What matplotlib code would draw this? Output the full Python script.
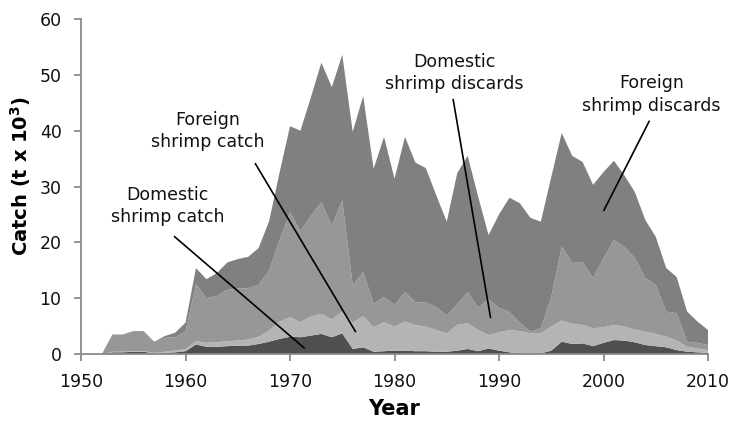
import matplotlib
matplotlib.use("Agg")
import matplotlib.pyplot as plt
import numpy as np

plt.rcParams['font.family'] = ['DejaVu Sans']

years = list(range(1950, 2011))

# Catch components (thousand tonnes), stacked bottom to top
domestic_catch = [
    0, 0, 0, 0.3, 0.3, 0.4, 0.4, 0.1, 0.2, 0.3,
    0.5, 1.7, 1.3, 1.3, 1.4, 1.5, 1.5, 1.8, 2.2, 2.7,
    3.1, 3.0, 3.3, 3.6, 3.0, 3.7, 0.9, 1.2, 0.4, 0.5,
    0.6, 0.6, 0.5, 0.5, 0.4, 0.4, 0.6, 0.9, 0.5, 1.0,
    0.6, 0.3, 0.1, 0.1, 0.1, 0.6, 2.2, 1.8, 1.9, 1.4,
    2.0, 2.5, 2.4, 2.1, 1.6, 1.4, 1.2, 0.7, 0.4, 0.3,
    0.2,
]
foreign_catch = [
    0, 0, 0, 0.1, 0.1, 0.1, 0.1, 0.1, 0.2, 0.3,
    0.4, 0.6, 0.7, 0.8, 0.9, 0.9, 1.1, 1.3, 2.0, 3.1,
    3.5, 2.7, 3.4, 3.6, 3.2, 3.9, 4.7, 5.6, 4.4, 5.2,
    4.3, 5.2, 4.7, 4.4, 3.9, 3.3, 4.6, 4.6, 3.8, 2.4,
    3.3, 4.0, 4.0, 3.6, 3.6, 4.3, 3.8, 3.6, 3.3, 3.2,
    2.8, 2.7, 2.5, 2.3, 2.4, 2.2, 1.9, 1.7, 0.9, 0.7,
    0.5,
]
domestic_discards = [
    0, 0, 0, 3.1, 3.1, 3.6, 3.6, 2.0, 2.5, 2.4,
    3.1, 10.2, 8.0, 8.3, 9.2, 9.3, 9.2, 9.3, 10.8, 14.6,
    18.8, 16.3, 18.1, 20.0, 16.8, 19.9, 6.7, 7.9, 4.2, 4.5,
    3.9, 5.3, 4.1, 4.3, 4.1, 3.2, 3.7, 5.6, 4.0, 6.4,
    4.4, 3.2, 1.5, 0.3, 0.9, 5.3, 13.2, 10.9, 11.3, 9.0,
    12.4, 15.2, 14.3, 12.8, 9.6, 8.8, 4.5, 4.9, 0.9, 1.0,
    0.9,
]
foreign_discards = [
    0, 0, 0, 0, 0, 0, 0, 0, 0.3, 0.8,
    1.6, 2.9, 3.4, 4.1, 4.9, 5.3, 5.6, 6.6, 8.8, 12.1,
    15.4, 18.0, 21.2, 25.0, 24.8, 26.1, 27.5, 31.5, 24.2, 28.7,
    22.6, 27.8, 25.0, 24.1, 20.0, 16.8, 23.5, 24.4, 19.9, 11.5,
    16.7, 20.5, 21.4, 20.4, 19.1, 21.5, 20.4, 19.2, 17.9, 16.7,
    15.4, 14.2, 12.8, 11.8, 10.4, 8.6, 7.8, 6.5, 5.4, 3.8,
    2.7,
]

layer_colors = ['#4f4f4f', '#b4b4b4', '#979797', '#808080']

x_ticks = [1950, 1960, 1970, 1980, 1990, 2000, 2010]
y_ticks = [0, 10, 20, 30, 40, 50, 60]

fig = plt.figure(figsize=(7.42, 4.24), dpi=100)
ax = fig.add_axes([0.1092, 0.1651, 0.845, 0.790])

ax.stackplot(years, domestic_catch, foreign_catch, domestic_discards,
             foreign_discards, colors=layer_colors, linewidth=0)

ax.set_xlim(1950, 2010)
ax.set_ylim(0, 60)
ax.set_xticks(x_ticks)
ax.set_yticks(y_ticks)

axis_grey = '#8a8a8a'
for side in ('top', 'right'):
    ax.spines[side].set_visible(False)
for side in ('left', 'bottom'):
    ax.spines[side].set_color(axis_grey)
    ax.spines[side].set_linewidth(1.3)
ax.tick_params(axis='both', colors=axis_grey, direction='out', length=5,
               width=1.3, labelcolor='#111111', labelsize=12.5)
ax.tick_params(axis='y', pad=9)
ax.tick_params(axis='x', pad=9)

ax.set_xlabel('Year', fontsize=15, fontweight='bold')
ax.xaxis.set_label_coords(0.5, -0.135)
ax.set_ylabel('Catch (t x 10$^\\mathbf{3}$)', fontsize=14, fontweight='bold')
ax.yaxis.set_label_coords(-0.077, 0.53)

# Series labels with leader lines
labels = [
    ('Domestic\nshrimp catch', (1958.3, 26.5), [(1958.9, 21.1), (1971.4, 1.0)]),
    ('Foreign\nshrimp catch', (1962.15, 40.0), [(1966.65, 34.2), (1976.3, 3.9)]),
    ('Domestic\nshrimp discards', (1985.7, 50.3), [(1985.6, 45.7), (1989.2, 6.4)]),
    ('Foreign\nshrimp discards', (2004.6, 46.5), [(2004.4, 41.8), (2000.0, 25.6)]),
]
for text, (tx, ty), seg in labels:
    ax.text(tx, ty, text, ha='center', va='center', fontsize=12.5,
            color='#111111', linespacing=1.3)
    (x0, y0), (x1, y1) = seg
    ax.plot([x0, x1], [y0, y1], color='black', linewidth=1.2,
            solid_capstyle='butt')

fig.savefig('out.png', dpi=100)
